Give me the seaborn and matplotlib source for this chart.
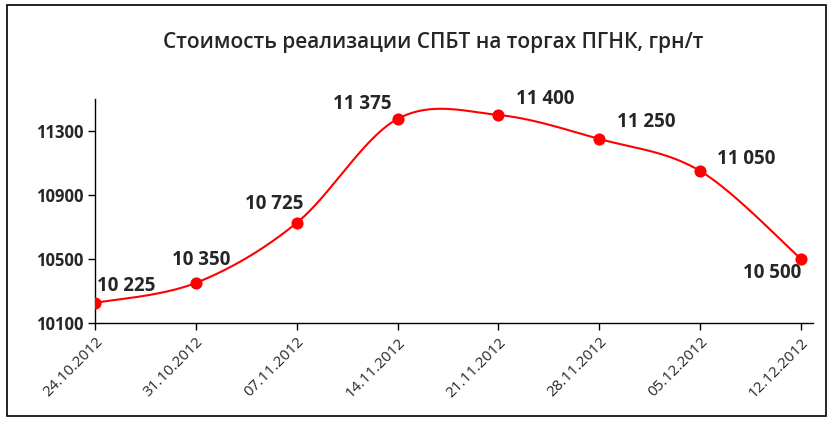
import numpy as np
import pandas as pd
import seaborn as sns
import matplotlib
matplotlib.use("Agg")
import matplotlib.pyplot as plt
from matplotlib.patches import Rectangle

dates = ["24.10.2012", "31.10.2012", "07.11.2012", "14.11.2012",
         "21.11.2012", "28.11.2012", "05.12.2012", "12.12.2012"]
prices = [10225, 10350, 10725, 11375, 11400, 11250, 11050, 10500]
# label offsets in pixels (dx, dy) from each point
label_offsets = [(31, 17), (5, 23), (-22, 19), (-35, 15),
                 (47, 16), (47, 17), (46, 12), (-29, -14)]

sns.set_style("white")
plt.rcParams['font.family'] = ['Open Sans', 'DejaVu Sans']

x = np.arange(len(prices))
y = np.array(prices, dtype=float)


# Excel-style smoothed line (Catmull-Rom through the points)
def smooth(xs, ys, n=40):
    px = np.concatenate([[xs[0]], xs, [xs[-1]]])
    py = np.concatenate([[ys[0]], ys, [ys[-1]]])
    outx, outy = [], []
    for i in range(1, len(px) - 2):
        t = np.linspace(0, 1, n)
        h00 = 2 * t**3 - 3 * t**2 + 1
        h10 = t**3 - 2 * t**2 + t
        h01 = -2 * t**3 + 3 * t**2
        h11 = t**3 - t**2
        mx1 = (px[i + 1] - px[i - 1]) / 2
        mx2 = (px[i + 2] - px[i]) / 2
        my1 = (py[i + 1] - py[i - 1]) / 2
        my2 = (py[i + 2] - py[i]) / 2
        outx.extend(h00 * px[i] + h10 * mx1 + h01 * px[i + 1] + h11 * mx2)
        outy.extend(h00 * py[i] + h10 * my1 + h01 * py[i + 1] + h11 * my2)
    return np.array(outx), np.array(outy)


sx, sy = smooth(x, y)
curve = pd.DataFrame({"x": sx, "y": sy})
pts = pd.DataFrame({"x": x, "y": y})

fig = plt.figure(figsize=(8.33, 4.21), dpi=100)
ax = fig.add_axes([0.114, 0.233, 0.862, 0.532])

sns.lineplot(data=curve, x="x", y="y", ax=ax, color="#FF0000", lw=1.5,
             sort=False, estimator=None)
sns.scatterplot(data=pts, x="x", y="y", ax=ax, color="#FF0000", s=65,
                edgecolor="#FF0000", zorder=3)

for xi, yi, (dx, dy) in zip(x, y, label_offsets):
    ax.annotate(f"{int(yi):,}".replace(",", " "), (xi, yi),
                xytext=(dx, dy), textcoords="offset pixels",
                ha="center", va="center", fontsize=13.5, fontweight="bold")

ax.set_xlim(0, 7.12)
ax.set_ylim(10100, 11500)
ax.set_yticks([10100, 10500, 10900, 11300])
ax.set_yticklabels(["10100", "10500", "10900", "11300"], fontsize=12,
                   fontweight="bold")
ax.set_xticks(x)
ax.set_xticklabels(dates, rotation=45, ha="right", rotation_mode="anchor",
                   fontsize=11)
ax.set_xlabel("")
ax.set_ylabel("")
ax.tick_params(axis="both", direction="out", length=5, width=1, color="black",
               bottom=True, left=True)
for side in ["top", "right"]:
    ax.spines[side].set_visible(False)
for side in ["left", "bottom"]:
    ax.spines[side].set_color("black")
    ax.spines[side].set_linewidth(1)

fig.text(0.52, 0.9, "Стоимость реализации СПБТ на торгах ПГНК, грн/т",
         ha="center", va="center", fontsize=15, fontweight="semibold")

fig.patches.append(Rectangle((0.008, 0.012), 0.984, 0.976, transform=fig.transFigure,
                             fill=False, edgecolor="black", lw=1.2))

plt.savefig("out.png", dpi=100)
